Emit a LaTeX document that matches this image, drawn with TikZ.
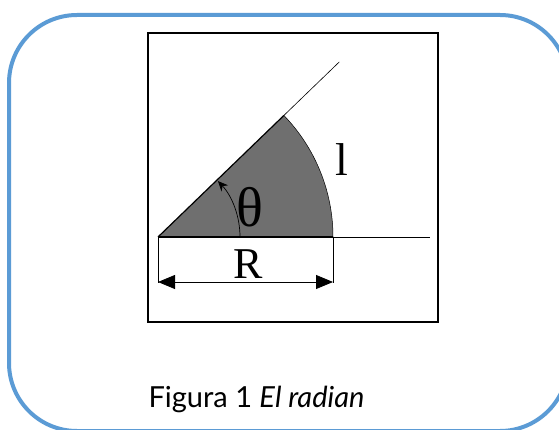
\documentclass[tikz,border=0pt]{standalone}
\usepackage{fontspec}
\setmainfont{Liberation Serif}
\newfontfamily\capfont{Lato}
\usepackage{tikz}
\usetikzlibrary{arrows.meta,calc}
\definecolor{frameblue}{RGB}{91,155,213}
\definecolor{sectorgray}{RGB}{111,111,111}

\begin{document}
\begin{tikzpicture}[x=1pt, y=1pt, >=Stealth]
  \useasboundingbox (0,0) rectangle (559,429);
  \clip (0,0) rectangle (559,429);
  \draw[frameblue, line width=4pt, rounded corners=68pt] (9,-2) rectangle (568,414);
  \draw[line width=1.6pt] (148,107) rectangle (438,396);
  \coordinate (O) at (158,192);
  \coordinate (A) at (333,192);
  \coordinate (H) at (430,192);
  \coordinate (T) at ($(O)+(44:252)$);
  \fill[sectorgray] (O) -- (A) arc[start angle=0, end angle=44, radius=175pt] -- cycle;
  \draw[line width=0.5pt] (A) arc[start angle=0, end angle=44, radius=175pt];
  \draw[line width=1.2pt] (O) -- (A);
  \draw[line width=0.6pt] (A) -- (H);
  \draw[line width=1.2pt] (O) -- ($(O)+(44:175)$);
  \draw[line width=0.6pt] ($(O)+(44:175)$) -- (T);
  \draw[line width=0.7pt, -{Stealth[length=10pt, width=9pt]}]
    ($(O)+(82,0)$) arc[start angle=0, end angle=43, radius=82pt];
  \node[font=\fontsize{56}{56}\selectfont] (theta) at (250,222) {θ};
  \node[font=\fontsize{46}{46}\selectfont] (arc) at (342,269) {l};
  % dimension R
  \coordinate (OD) at (158,146);
  \coordinate (AD) at (333,146);
  \draw[line width=0.6pt] (O) -- (OD);
  \draw[line width=0.6pt] (A) -- (AD);
  \draw[line width=0.8pt, {Triangle[length=17pt, width=14pt]}-{Triangle[length=17pt, width=14pt]}]
    ($(OD)+(0,1)$) -- ($(AD)+(0,1)$);
  \node[font=\fontsize{44}{44}\selectfont] (radius) at (248,165) {R};
  \node[font=\capfont\fontsize{29}{29}\selectfont, anchor=base west] (caption) at (145,22)
    {Figura 1 \textit{El radian}};
\end{tikzpicture}
\end{document}
